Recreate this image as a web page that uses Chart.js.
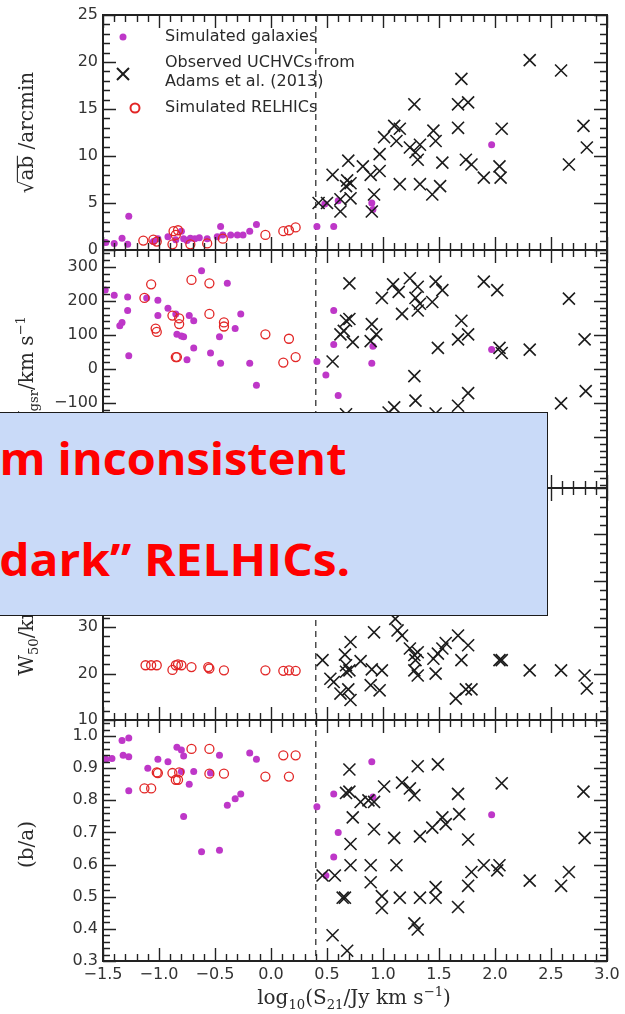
<!DOCTYPE html>
<html>
<head>
<meta charset="utf-8">
<script src="https://cdn.jsdelivr.net/npm/chart.js@4.4.1/dist/chart.umd.min.js"></script>
<style>
  html, body { margin: 0; padding: 0; background: #fff; }
  #wrap { position: relative; width: 625px; height: 1014px; overflow: hidden; }
  #c { position: absolute; left: 0; top: 0; }
  #note {
    position: absolute; left: -20px; top: 412px; width: 568px; height: 204px;
    box-sizing: border-box; background: #c9daf8; border: 1.5px solid #1b1b1b;
    font-family: "Open Sans", "Noto Sans", sans-serif; font-weight: 700;
    font-size: 45px; color: #ff0000;
  }
  #note span { position: absolute; white-space: nowrap; line-height: 1; transform-origin: right center; }
</style>
</head>
<body>
<div id="wrap">
  <canvas id="c" width="625" height="1014"></canvas>
  <div id="note">
    <span id="l1" style="right:201px; top:22px;">m inconsistent</span>
    <span id="l2" style="right:197px; top:123px;">dark” RELHICs.</span>
  </div>
</div>
<script>
// x axis
const xTicks = [-1.5, -1.0, -0.5, 0.0, 0.5, 1.0, 1.5, 2.0, 2.5, 3.0];
const dashX = 0.4;

// y tick labels per panel
const sizeTicks = [0, 5, 10, 15, 20, 25];
const velTicks = [-300, -200, -100, 0, 100, 200, 300];
const widthTicks = [10, 20, 30, 40, 50, 60];
const ratioTicks = [0.3, 0.4, 0.5, 0.6, 0.7, 0.8, 0.9, 1.0];

// panel 1: sqrt(ab) / arcmin
const galSize = [[-1.475,0.8],[-1.40,0.7],[-1.33,1.25],[-1.28,0.6],[-1.27,3.6],[-1.05,0.9],[-1.01,1.2],
  [-0.92,1.4],[-0.85,1.1],[-0.80,2.0],[-0.78,1.2],[-0.75,1.0],[-0.72,1.25],[-0.68,1.2],[-0.64,1.3],
  [-0.57,1.2],[-0.48,1.4],[-0.45,2.5],[-0.43,1.6],[-0.36,1.6],[-0.30,1.6],[-0.25,1.6],[-0.19,2.0],
  [-0.13,2.7],[0.41,2.5],[0.56,2.5],[0.48,4.9],[0.60,5.25],[0.90,5.0],[0.91,4.3],[1.97,11.2]];
const relSize = [[-1.14,1.0],[-1.05,1.1],[-1.02,0.9],[-0.87,2.0],[-0.85,1.6],[-0.83,2.1],[-0.88,0.6],
  [-0.72,0.6],[-0.57,0.7],[-0.43,1.2],[-0.05,1.6],[0.11,2.0],[0.16,2.1],[0.22,2.4]];
const obsSize = [[0.55,8.0],[0.425,5.0],[0.50,5.0],[0.62,4.1],[0.62,5.4],[0.69,9.5],[0.67,6.8],[0.71,7.1],
  [0.71,5.5],[0.68,7.4],[0.82,8.9],[0.89,8.0],[0.92,5.9],[0.90,4.1],[0.97,10.2],[0.97,8.4],[1.01,12.0],
  [1.10,13.2],[1.12,11.6],[1.15,12.9],[1.15,7.0],[1.28,15.5],[1.24,10.9],[1.29,10.4],[1.31,9.6],
  [1.33,11.2],[1.33,7.0],[1.44,5.9],[1.45,12.7],[1.47,11.6],[1.53,9.3],[1.51,6.8],[1.67,15.5],
  [1.67,13.0],[1.70,18.2],[1.76,15.7],[1.74,9.6],[1.79,9.1],[1.90,7.7],[2.04,8.9],[2.06,12.9],
  [2.05,7.7],[2.31,20.2],[2.59,19.1],[2.66,9.1],[2.79,13.2],[2.82,10.9]];

// panel 2: Vgsr / km s^-1
const galVel = [[-1.48,232],[-1.40,217],[-1.28,212],[-1.28,172],[-1.33,137],[-1.35,127],[-1.27,39],
  [-1.11,209],[-1.01,202],[-1.01,157],[-0.92,179],[-0.85,162],[-0.84,102],[-0.80,97],[-0.78,95],
  [-0.75,27],[-0.73,157],[-0.69,142],[-0.69,62],[-0.62,289],[-0.54,47],[-0.46,95],[-0.45,17],
  [-0.39,252],[-0.32,119],[-0.27,162],[-0.19,17],[-0.13,-48],[0.41,22],[0.49,-18],[0.56,172],
  [0.56,72],[0.60,-78],[0.90,17],[0.91,67],[1.97,57]];
const relVel = [[-1.13,209],[-1.07,249],[-1.03,119],[-1.02,109],[-0.88,157],[-0.85,35],[-0.84,35],
  [-0.82,149],[-0.82,132],[-0.71,262],[-0.55,252],[-0.55,162],[-0.42,137],[-0.42,125],[-0.05,102],
  [0.11,19],[0.16,89],[0.22,35]];
const obsVel = [[0.70,252],[0.55,22],[0.62,102],[0.67,142],[0.70,147],[0.65,112],[0.73,79],[0.90,132],
  [0.89,82],[0.94,102],[0.99,209],[1.09,249],[1.14,227],[1.17,162],[1.24,267],[1.29,209],[1.31,242],
  [1.33,192],[1.31,172],[1.44,197],[1.47,257],[1.53,232],[1.49,62],[1.70,142],[1.67,87],[1.76,102],
  [1.28,-21],[1.29,-93],[1.76,-71],[1.67,-108],[1.10,-113],[1.05,-128],[1.47,-131],[0.67,-133],
  [1.90,257],[2.02,232],[2.04,62],[2.06,47],[2.31,57],[2.66,207],[2.80,87],[2.59,-101],[2.81,-65]];

// panel 3: W50 / km s^-1
const relW50 = [[-1.12,21.8],[-1.07,21.8],[-1.02,21.8],[-0.88,20.8],[-0.85,21.8],[-0.83,22.0],
  [-0.80,21.8],[-0.71,21.4],[-0.56,21.4],[-0.55,21.1],[-0.42,20.7],[-0.05,20.7],[0.11,20.6],
  [0.16,20.7],[0.22,20.6]];
const obsW50 = [[0.46,22.9],[0.53,18.9],[0.56,18.2],[0.66,24.1],[0.67,21.8],[0.70,20.7],[0.67,20.4],
  [0.71,26.8],[0.62,15.7],[0.69,16.6],[0.71,14.3],[0.80,22.7],[0.90,20.9],[0.92,28.9],[0.89,17.5],
  [0.97,16.4],[0.99,20.7],[1.11,31.8],[1.13,29.3],[1.17,28.2],[1.24,25.4],[1.28,24.0],[1.29,22.9],
  [1.31,24.6],[1.28,20.7],[1.31,19.6],[1.45,23.2],[1.47,20.0],[1.49,24.3],[1.53,25.4],[1.56,26.6],
  [1.67,28.2],[1.70,22.9],[1.76,26.1],[1.65,14.6],[1.74,16.6],[1.79,16.6],[2.04,22.9],[2.06,22.9],
  [2.31,20.7],[2.59,20.7],[2.80,19.6],[2.82,16.8]];

// panel 4: b/a
const galAxis = [[-1.475,0.928],[-1.42,0.93],[-1.33,0.986],[-1.27,0.994],[-1.32,0.94],[-1.27,0.936],
  [-1.27,0.83],[-1.10,0.90],[-1.01,0.928],[-0.92,0.92],[-0.84,0.965],[-0.80,0.957],[-0.78,0.938],
  [-0.78,0.75],[-0.73,0.85],[-0.69,0.89],[-0.80,0.89],[-0.62,0.64],[-0.54,0.885],[-0.46,0.94],
  [-0.46,0.645],[-0.39,0.785],[-0.32,0.805],[-0.27,0.82],[-0.19,0.947],[-0.13,0.928],[0.41,0.78],
  [0.49,0.566],[0.56,0.82],[0.56,0.624],[0.60,0.70],[0.90,0.92],[0.91,0.81],[1.97,0.755]];
const relAxis = [[-1.13,0.837],[-1.07,0.837],[-1.02,0.887],[-1.01,0.885],[-0.88,0.885],[-0.85,0.864],
  [-0.83,0.864],[-0.82,0.887],[-0.71,0.96],[-0.55,0.96],[-0.55,0.883],[-0.42,0.883],[-0.05,0.874],
  [0.11,0.94],[0.16,0.874],[0.22,0.94]];
const obsAxis = [[0.70,0.896],[0.67,0.823],[0.70,0.827],[0.73,0.747],[0.71,0.664],[0.71,0.598],
  [0.57,0.566],[0.46,0.566],[0.64,0.497],[0.66,0.497],[0.55,0.38],[0.68,0.332],[0.80,0.795],
  [0.87,0.80],[0.92,0.795],[0.92,0.71],[0.89,0.598],[0.89,0.545],[0.99,0.502],[0.99,0.465],
  [1.01,0.843],[1.10,0.683],[1.12,0.598],[1.15,0.497],[1.17,0.855],[1.24,0.837],[1.28,0.816],
  [1.28,0.417],[1.31,0.398],[1.31,0.906],[1.33,0.688],[1.33,0.497],[1.44,0.715],[1.49,0.912],
  [1.47,0.53],[1.47,0.497],[1.53,0.747],[1.56,0.726],[1.67,0.82],[1.67,0.468],[1.68,0.757],
  [1.76,0.678],[1.76,0.534],[1.79,0.577],[1.90,0.598],[2.02,0.582],[2.04,0.598],[2.06,0.853],
  [2.31,0.55],[2.59,0.534],[2.66,0.577],[2.79,0.827],[2.80,0.683]];

const purple = 'rgb(190,55,200)';
const red = 'rgb(226,38,38)';
const ink = '#1c1c1c';

const minus = s => String(s).replace('-', '\u2212');

// panels from top to bottom
const panels = [
  { id: 'yS', min: 0, max: 25, ticks: sizeTicks, minor: 1, major: 5, weight: 235, fmt: v => String(v),
    title: [{ t: '\u221A' }, { t: 'ab', over: true }, { t: ' /arcmin' }], shift: 0 },
  { id: 'yV', min: -350, max: 350, ticks: velTicks, minor: 20, major: 100, weight: 238, fmt: v => minus(v),
    title: [{ t: 'V' }, { t: 'gsr', sub: true }, { t: '/km s' }, { t: '\u22121', sup: true }], shift: 2 },
  { id: 'yW', min: 10, max: 60, ticks: widthTicks, minor: 2, major: 10, weight: 232, fmt: v => String(v),
    title: [{ t: 'W' }, { t: '50', sub: true }, { t: '/km s' }, { t: '\u22121', sup: true }], shift: 16 },
  { id: 'yR', min: 0.3, max: 1.05, ticks: ratioTicks, minor: 0.02, major: 0.1, weight: 241, fmt: v => v.toFixed(1),
    title: [{ t: '(b/a)' }], shift: 4 }
];

const pts = a => a.map(([x, y]) => ({ x, y }));
const gal = (data, y) => ({ label: 'Simulated galaxies', data: pts(data), yAxisID: y, pointStyle: 'circle',
  pointRadius: 3.5, backgroundColor: purple, borderColor: purple, borderWidth: 0 });
const obs = (data, y) => ({ label: 'Observed UCHVCs from\nAdams et al. (2013)', data: pts(data), yAxisID: y,
  pointStyle: 'crossRot', pointRadius: 8.5, borderColor: ink, borderWidth: 1.6, backgroundColor: ink });
const rel = (data, y) => ({ label: 'Simulated RELHICs', data: pts(data), yAxisID: y, pointStyle: 'circle',
  pointRadius: 4.5, borderColor: red, borderWidth: 1.3, backgroundColor: 'rgba(0,0,0,0)' });

const datasets = [
  rel(relSize, 'yS'), obs(obsSize, 'yS'), gal(galSize, 'yS'),
  rel(relVel, 'yV'), obs(obsVel, 'yV'), gal(galVel, 'yV'),
  rel(relW50, 'yW'), obs(obsW50, 'yW'),
  rel(relAxis, 'yR'), obs(obsAxis, 'yR'), gal(galAxis, 'yR')
];

const tickFont = { family: 'DejaVu Sans', size: 16 };
const scales = {
  x: {
    type: 'linear', position: 'bottom', min: -1.5, max: 3.0,
    afterBuildTicks: s => { s.ticks = xTicks.map(v => ({ value: v })); },
    afterFit: s => { s.height = 53; },
    grid: { display: false, drawTicks: false }, border: { display: false },
    ticks: { font: tickFont, color: '#333', padding: 4, maxRotation: 0, autoSkip: false,
      callback: v => minus(v.toFixed(1)) }
  }
};
// stacked left axes: the last one added is placed on top
[...panels].reverse().forEach(p => {
  scales[p.id] = {
    type: 'linear', position: 'left', stack: 'panels', stackWeight: p.weight, min: p.min, max: p.max,
    afterBuildTicks: s => { s.ticks = p.ticks.map(v => ({ value: v })); },
    afterFit: s => { s.width = 103; },
    grid: { display: false, drawTicks: false }, border: { display: false },
    ticks: { font: tickFont, color: '#333', padding: 5, autoSkip: false, callback: v => p.fmt(v) }
  };
});

function runTicks(min, max, step, cb) {
  const start = Math.ceil(min / step - 1e-6);
  const end = Math.floor(max / step + 1e-6);
  for (let i = start; i <= end; i++) cb(i * step);
}
const isMajor = (v, m) => Math.abs(v / m - Math.round(v / m)) < 1e-6;

function richText(ctx, parts, cx, cy, size, rotate) {
  ctx.save();
  ctx.translate(cx, cy);
  if (rotate) ctx.rotate(-Math.PI / 2);
  const fam = '"DejaVu Serif"';
  const items = parts.map(p => {
    const fs = (p.sub || p.sup) ? size * 0.66 : size;
    ctx.font = fs + 'px ' + fam;
    return { p, fs, w: ctx.measureText(p.t).width };
  });
  const total = items.reduce((a, b) => a + b.w, 0);
  let x = -total / 2;
  const base = size * 0.32;
  ctx.fillStyle = '#2a2a2a';
  ctx.strokeStyle = '#2a2a2a';
  ctx.textBaseline = 'alphabetic';
  for (const it of items) {
    ctx.font = it.fs + 'px ' + fam;
    const dy = it.p.sub ? size * 0.22 : it.p.sup ? -size * 0.42 : 0;
    ctx.fillText(it.p.t, x, base + dy);
    if (it.p.over) {
      ctx.lineWidth = 1.1;
      ctx.beginPath();
      ctx.moveTo(x - 1, base - size * 0.8);
      ctx.lineTo(x + it.w, base - size * 0.8);
      ctx.stroke();
    }
    x += it.w;
  }
  ctx.restore();
}

const decor = {
  id: 'decor',
  beforeDatasetsDraw(chart) {
    const { ctx, chartArea: a } = chart;
    const px = chart.scales.x.getPixelForValue(dashX);
    ctx.save();
    ctx.strokeStyle = '#222';
    ctx.lineWidth = 1.2;
    ctx.setLineDash([6, 5]);
    ctx.beginPath();
    ctx.moveTo(px, a.top);
    ctx.lineTo(px, a.bottom);
    ctx.stroke();
    ctx.restore();
  },
  afterDatasetsDraw(chart) {
    const { ctx, chartArea: a } = chart;
    const xs = chart.scales.x;
    ctx.save();
    ctx.strokeStyle = '#222';
    panels.forEach(p => {
      const s = chart.scales[p.id];
      ctx.lineWidth = 1.4;
      ctx.beginPath();
      runTicks(p.min, p.max, p.minor, v => {
        const y = Math.round(s.getPixelForValue(v)) + 0.5;
        const len = isMajor(v, p.major) ? 13 : 7;
        ctx.moveTo(a.left, y); ctx.lineTo(a.left + len, y);
        ctx.moveTo(a.right, y); ctx.lineTo(a.right - len, y);
      });
      runTicks(xs.min, xs.max, 0.1, v => {
        const x = Math.round(xs.getPixelForValue(v)) + 0.5;
        const len = isMajor(v, 0.5) ? 13 : 7;
        ctx.moveTo(x, s.top); ctx.lineTo(x, s.top + len);
        ctx.moveTo(x, s.bottom); ctx.lineTo(x, s.bottom - len);
      });
      ctx.stroke();
      ctx.lineWidth = 2;
      ctx.strokeRect(a.left, s.top, a.right - a.left, s.bottom - s.top);
      richText(ctx, p.title, 27, (s.top + s.bottom) / 2 + p.shift, 20, true);
    });
    richText(ctx, [{ t: 'log' }, { t: '10', sub: true }, { t: '(S' }, { t: '21', sub: true },
      { t: '/Jy km s' }, { t: '\u22121', sup: true }, { t: ')' }], 354, 998, 20, false);

    // legend (first three datasets belong to the top panel)
    const rows = [
      { ds: chart.data.datasets[2], mx: 123, my: 37, ty: 37 },
      { ds: chart.data.datasets[1], mx: 123, my: 74, ty: 63 },
      { ds: chart.data.datasets[0], mx: 135, my: 108, ty: 108 }
    ];
    ctx.font = '16px "DejaVu Sans"';
    ctx.textBaseline = 'middle';
    rows.forEach(r => {
      const d = r.ds;
      ctx.fillStyle = d.backgroundColor;
      ctx.strokeStyle = d.borderColor;
      Chart.helpers.drawPoint(ctx, { pointStyle: d.pointStyle, radius: d.pointRadius, rotation: 0,
        borderWidth: d.borderWidth }, r.mx, r.my);
      ctx.fillStyle = '#2a2a2a';
      d.label.split('\n').forEach((line, i) => ctx.fillText(line, 165, r.ty + i * 19));
    });
    ctx.restore();
  }
};

new Chart(document.getElementById('c'), {
  type: 'scatter',
  data: { datasets },
  options: {
    responsive: false,
    animation: false,
    layout: { padding: { top: 15, right: 18, left: 0, bottom: 0 } },
    plugins: { legend: { display: false }, tooltip: { enabled: false } },
    elements: { point: { hoverRadius: 0 } },
    scales
  },
  plugins: [decor]
});

// stretch the overlay lines so they reach the left edge of the page like the slide text
function fitNote() {
  [['l1', 347], ['l2', 351]].forEach(([id, target]) => {
    const el = document.getElementById(id);
    el.style.transform = 'none';
    const w = el.getBoundingClientRect().width;
    if (w > 0) el.style.transform = 'scaleX(' + (target / w) + ')';
  });
}
fitNote();
if (document.fonts && document.fonts.ready) document.fonts.ready.then(fitNote);
</script>
</body>
</html>
